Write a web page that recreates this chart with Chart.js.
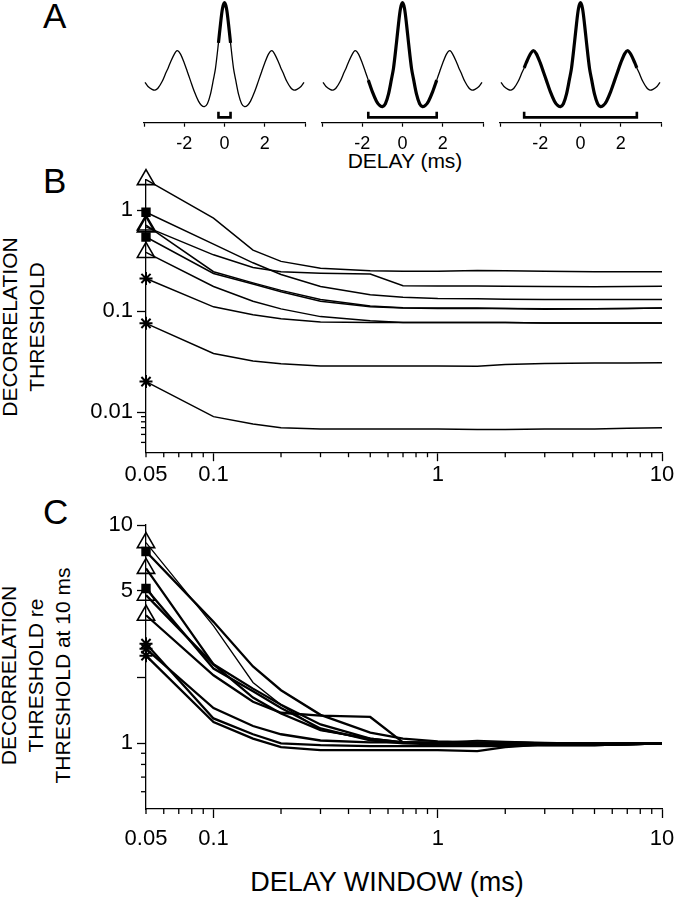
<!DOCTYPE html>
<html>
<head>
<meta charset="utf-8">
<script src="https://cdn.jsdelivr.net/npm/chart.js@4.4.1/dist/chart.umd.min.js"></script>
<style>
  html, body { margin: 0; padding: 0; background: #fff; }
  body { width: 674px; height: 899px; position: relative; overflow: hidden;
         font-family: "Liberation Sans", Arial, sans-serif; color: #000; }
  canvas, .txt { position: absolute; }
  .txt { white-space: nowrap; line-height: 1; }
  .panel { font-size: 35px; left: 43px; }
  .ytitle { font-size: 21px; line-height: 27px; text-align: center; width: 300px;
            transform: rotate(-90deg); }
</style>
</head>
<body>
<div class="txt panel" style="top:-2.5px">A</div>
<div class="txt panel" style="top:162.5px">B</div>
<div class="txt panel" style="top:493.5px">C</div>
<div class="txt" style="font-size:21px; left:305px; width:200px; text-align:center; top:150px">DELAY (ms)</div>
<div class="txt ytitle" style="left:-127.5px; top:300px">DECORRELATION<br>THRESHOLD</div>
<div class="txt ytitle" style="left:-115px; top:634.5px">DECORRELATION<br>THRESHOLD re<br>THRESHOLD at 10 ms</div>
<div class="txt" style="font-size:27px; left:237px; width:300px; text-align:center; top:868.5px">DELAY WINDOW (ms)</div>

<canvas id="a1" width="191" height="160" style="left:129px; top:0"></canvas>
<canvas id="a2" width="191" height="160" style="left:307px; top:0"></canvas>
<canvas id="a3" width="191" height="160" style="left:485px; top:0"></canvas>
<canvas id="chart-b" width="674" height="335" style="left:0; top:155px"></canvas>
<canvas id="chart-c" width="674" height="409" style="left:0; top:490px"></canvas>

<script>
// --- panel A: autocorrelation of the noise ---
const delayMs = [-3.95, -3.8, -3.6, -3.45, -3.3, -3.1, -2.9, -2.8, -2.7, -2.5,
    -2.35, -2.2, -2.0, -1.85, -1.7, -1.5, -1.3, -1.15, -1.0, -0.85,
    -0.7, -0.55, -0.45, -0.3, -0.2, -0.1, 0, 0.1, 0.2, 0.3,
    0.45, 0.55, 0.7, 0.85, 1.0, 1.15, 1.3, 1.5, 1.7, 1.85,
    2.0, 2.2, 2.35, 2.5, 2.7, 2.8, 2.9, 3.1, 3.3, 3.45,
    3.6, 3.8, 3.95];
const acf = [-0.11, -0.17, -0.21, -0.22, -0.19, -0.10, 0.03, 0.09, 0.16, 0.28,
    0.33, 0.29, 0.16, 0.04, -0.08, -0.24, -0.37, -0.43, -0.45, -0.41,
    -0.28, -0.07, 0.08, 0.44, 0.70, 0.92, 1.0, 0.92, 0.70, 0.44,
    0.08, -0.07, -0.28, -0.41, -0.45, -0.43, -0.37, -0.24, -0.08, 0.04,
    0.16, 0.29, 0.33, 0.28, 0.16, 0.09, 0.03, -0.10, -0.19, -0.22,
    -0.21, -0.17, -0.11];
const halfWindowMs = [0.3, 1.7, 2.8];
const aTicks = [-4, -2, 0, 2, 4];
const aTickLabels = ["", "-2", "0", "2", ""];

// --- panels B and C: thresholds vs delay window ---
const windowMs = [0.05, 0.1, 0.15, 0.2, 0.3, 0.5, 0.7, 1, 1.5, 2, 3, 5, 7, 10];

const bTri1 = [2.0, 0.83, 0.40, 0.31, 0.265, 0.25, 0.247, 0.247, 0.252, 0.25, 0.247, 0.245, 0.245, 0.245];
const bSq1  = [0.95, 0.46, 0.30, 0.23, 0.175, 0.145, 0.137, 0.133, 0.132, 0.131, 0.130, 0.130, 0.130, 0.130];
const bTri2 = [0.71, 0.245, 0.19, 0.16, 0.13, 0.112, 0.108, 0.107, 0.107, 0.106, 0.105, 0.105, 0.106, 0.107];
const bSq2  = [0.54, 0.235, 0.185, 0.155, 0.125, 0.11, 0.107, 0.106, 0.106, 0.106, 0.104, 0.105, 0.106, 0.107];
const bTri3 = [0.68, 0.36, 0.27, 0.245, 0.237, 0.232, 0.178, 0.177, 0.177, 0.176, 0.175, 0.174, 0.175, 0.176];
const bTri4 = [0.38, 0.175, 0.125, 0.105, 0.088, 0.08, 0.077, 0.077, 0.077, 0.077, 0.076, 0.076, 0.076, 0.076];
const bAst1 = [0.21, 0.11, 0.092, 0.084, 0.078, 0.077, 0.077, 0.077, 0.077, 0.077, 0.076, 0.076, 0.076, 0.076];
const bAst2 = [0.0755, 0.038, 0.032, 0.030, 0.0285, 0.0285, 0.0285, 0.0285, 0.0284, 0.0295, 0.0303, 0.0305, 0.0306, 0.0307];
const bAst3 = [0.02, 0.009, 0.0076, 0.0070, 0.0068, 0.0068, 0.0068, 0.0068, 0.0067, 0.0067, 0.0068, 0.0068, 0.0069, 0.007];

const cTri1 = [8.3, 3.45, 1.9, 1.5, 1.15, 1.04, 1.01, 1.01, 1.03, 1.02, 1.01, 1.0, 1.0, 1.0];
const cSq1  = [7.56, 3.6, 2.25, 1.75, 1.35, 1.12, 1.05, 1.02, 1.01, 1.01, 1.0, 1.0, 1.0, 1.0];
const cTri2 = [6.33, 2.3, 1.78, 1.5, 1.22, 1.05, 1.01, 1.0, 1.0, 0.99, 0.98, 0.98, 0.99, 1.0];
const cSq2  = [5.12, 2.2, 1.73, 1.45, 1.17, 1.03, 1.0, 0.99, 0.99, 0.99, 0.98, 0.98, 0.99, 1.0];
const cTri3 = [3.86, 2.05, 1.55, 1.38, 1.34, 1.32, 1.01, 1.0, 1.0, 1.0, 0.99, 0.99, 0.99, 1.0];
const cTri4 = [4.77, 2.3, 1.62, 1.37, 1.15, 1.05, 1.01, 1.0, 1.0, 1.0, 1.0, 1.0, 1.0, 1.0];
const cAst1 = [2.71, 1.45, 1.2, 1.1, 1.03, 1.01, 1.01, 1.01, 1.01, 1.01, 1.0, 1.0, 1.0, 1.0];
const cAst2 = [2.52, 1.25, 1.05, 0.96, 0.93, 0.93, 0.93, 0.93, 0.92, 0.96, 0.99, 0.99, 1.0, 1.0];
const cAst3 = [2.86, 1.3, 1.1, 1.0, 0.98, 0.97, 0.97, 0.97, 0.97, 0.97, 0.98, 0.98, 0.99, 1.0];

const markers = ["triangle", "rect", "triangle", "rect", "triangle", "triangle", "star", "star", "star"];

const xTicks = [0.05, 0.1, 1, 10];
const xTickLabels = ["0.05", "0.1", "1", "10"];
const xMinor = [0.05, 0.06, 0.07, 0.08, 0.09, 0.2, 0.3, 0.4, 0.5, 0.6, 0.7, 0.8, 0.9, 2, 3, 4, 5, 6, 7, 8, 9];
const bYTicks = [0.01, 0.1, 1];
const bYTickLabels = ["0.01", "0.1", "1"];
const bYMinor = [0.005, 0.006, 0.007, 0.008, 0.009];
const cYTicks = [1, 2, 5, 10];
const cYTickLabels = ["1", "", "5", "10"];
const cYMinor = [0.6, 0.7, 0.8, 0.9];

Chart.defaults.font.family = '"Liberation Sans", Arial, sans-serif';
Chart.defaults.color = "#000";

const BLACK = "#000";
const NONE = "rgba(0,0,0,0)";
const BRACKET_TOP = -0.52;
const BRACKET_BOTTOM = -0.60;

// short ticks between the labelled ones
const minorTicks = {
    id: "minorTicks",
    afterDraw(chart, args, opts) {
        const ctx = chart.ctx;
        ctx.save();
        ctx.strokeStyle = BLACK;
        ctx.lineWidth = 1.3;
        for (const key of ["x", "y"]) {
            const vals = opts[key];
            if (!vals) { continue; }
            const s = chart.scales[key];
            for (const v of vals) {
                const p = s.getPixelForValue(v);
                ctx.beginPath();
                if (key === "x") {
                    ctx.moveTo(p, s.top);
                    ctx.lineTo(p, s.top + opts.len);
                } else {
                    ctx.moveTo(s.right, p);
                    ctx.lineTo(s.right - opts.len, p);
                }
                ctx.stroke();
            }
        }
        ctx.restore();
    },
};

function acfChart(id, half) {
    const full = delayMs.map((d, i) => ({ x: d, y: acf[i] }));
    const bold = full.filter(p => Math.abs(p.x) <= half + 1e-9);
    const bracket = [
        { x: -half, y: BRACKET_TOP }, { x: -half, y: BRACKET_BOTTOM },
        { x: half, y: BRACKET_BOTTOM }, { x: half, y: BRACKET_TOP },
    ];
    new Chart(document.getElementById(id), {
        type: "line",
        data: {
            datasets: [
                { data: bold, borderColor: BLACK, borderWidth: 3.2, tension: 0.3, clip: false },
                { data: full, borderColor: BLACK, borderWidth: 1.3, tension: 0.3, clip: false },
                { data: bracket, borderColor: BLACK, borderWidth: 2.6, tension: 0, clip: false,
                  borderJoinStyle: "miter" },
            ],
        },
        options: {
            responsive: false, animation: false, devicePixelRatio: 1, events: [],
            layout: { padding: { left: 15, right: 15, top: 2.7, bottom: 0 } },
            plugins: { legend: { display: false }, tooltip: { enabled: false } },
            elements: { point: { radius: 0 } },
            scales: {
                x: {
                    type: "linear", min: -4, max: 4,
                    afterBuildTicks: s => { s.ticks = aTicks.map(v => ({ value: v })); },
                    afterFit: s => { s.height = 37.3; s.paddingLeft = 0; s.paddingRight = 0; },
                    grid: { drawOnChartArea: false, tickLength: 4, tickColor: BLACK, tickWidth: 1.2 },
                    border: { color: BLACK, width: 1.3 },
                    ticks: { font: { size: 18 }, padding: 7, maxRotation: 0, autoSkip: false,
                             callback: (v, i) => aTickLabels[i] },
                },
                y: { display: false, min: -0.674, max: 1.0 },
            },
        },
    });
}

function thresholdSets(series, width, thinFirst) {
    return series.map((vals, k) => ({
        data: vals,
        borderColor: BLACK,
        borderWidth: thinFirst && k === 0 ? 1.3 : width,
        tension: 0,
        clip: false,
        pointStyle: markers[k],
        pointRadius: ctx => ctx.dataIndex === 0 ? (markers[k] === "triangle" ? 10 : markers[k] === "rect" ? 5.5 : 6.5) : 0,
        pointBorderWidth: markers[k] === "star" ? 2 : 1.6,
        pointBorderColor: BLACK,
        pointBackgroundColor: markers[k] === "rect" ? BLACK : NONE,
    }));
}

function thresholdChart(id, series, cfg) {
    new Chart(document.getElementById(id), {
        type: "line",
        data: { labels: windowMs, datasets: thresholdSets(series, cfg.lineWidth, cfg.thinFirst) },
        options: {
            responsive: false, animation: false, devicePixelRatio: 1, events: [],
            layout: { padding: { left: 0, right: 12, top: cfg.top, bottom: 0 } },
            plugins: {
                legend: { display: false }, tooltip: { enabled: false },
                minorTicks: { x: xMinor, y: cfg.yMinor, len: 5 },
            },
            scales: {
                x: {
                    type: "logarithmic", min: 0.05, max: 10,
                    afterBuildTicks: s => { s.ticks = xTicks.map(v => ({ value: v })); },
                    afterFit: s => { s.height = cfg.xHeight; s.paddingLeft = 0; s.paddingRight = 0; },
                    grid: { drawOnChartArea: false, tickLength: 9, tickWidth: 1.3,
                            tickColor: c => (c.tick && c.tick.value === 0.05) ? NONE : BLACK },
                    border: { color: BLACK, width: 1.3 },
                    ticks: { font: { size: 22 }, padding: cfg.xPad, maxRotation: 0, autoSkip: false,
                             callback: (v, i) => xTickLabels[i] },
                },
                y: {
                    type: "logarithmic", min: cfg.yMin, max: cfg.yMax,
                    afterBuildTicks: s => { s.ticks = cfg.yTicks.map(v => ({ value: v })); },
                    afterFit: s => { s.width = 146; s.paddingTop = 0; s.paddingBottom = 0; },
                    grid: { drawOnChartArea: false, tickLength: 9, tickWidth: 1.3, tickColor: BLACK },
                    border: { color: BLACK, width: 1.3 },
                    ticks: { font: { size: 22 }, padding: 4, autoSkip: false,
                             callback: (v, i) => cfg.yLabels[i] },
                },
            },
        },
        plugins: [minorTicks],
    });
}

halfWindowMs.forEach((h, i) => acfChart("a" + (i + 1), h));

thresholdChart("chart-b",
    [bTri1, bSq1, bTri2, bSq2, bTri3, bTri4, bAst1, bAst2, bAst3],
    { top: 24.6, xHeight: 37.8, xPad: 1, yMin: 0.004, yMax: 2, yTicks: bYTicks,
      yLabels: bYTickLabels, yMinor: bYMinor, lineWidth: 1.5, thinFirst: false });

thresholdChart("chart-c",
    [cTri1, cSq1, cTri2, cSq2, cTri3, cTri4, cAst1, cAst2, cAst3],
    { top: 35, xHeight: 90, xPad: 8, yMin: 0.5, yMax: 10, yTicks: cYTicks,
      yLabels: cYTickLabels, yMinor: cYMinor, lineWidth: 2.3, thinFirst: true });
</script>
</body>
</html>
